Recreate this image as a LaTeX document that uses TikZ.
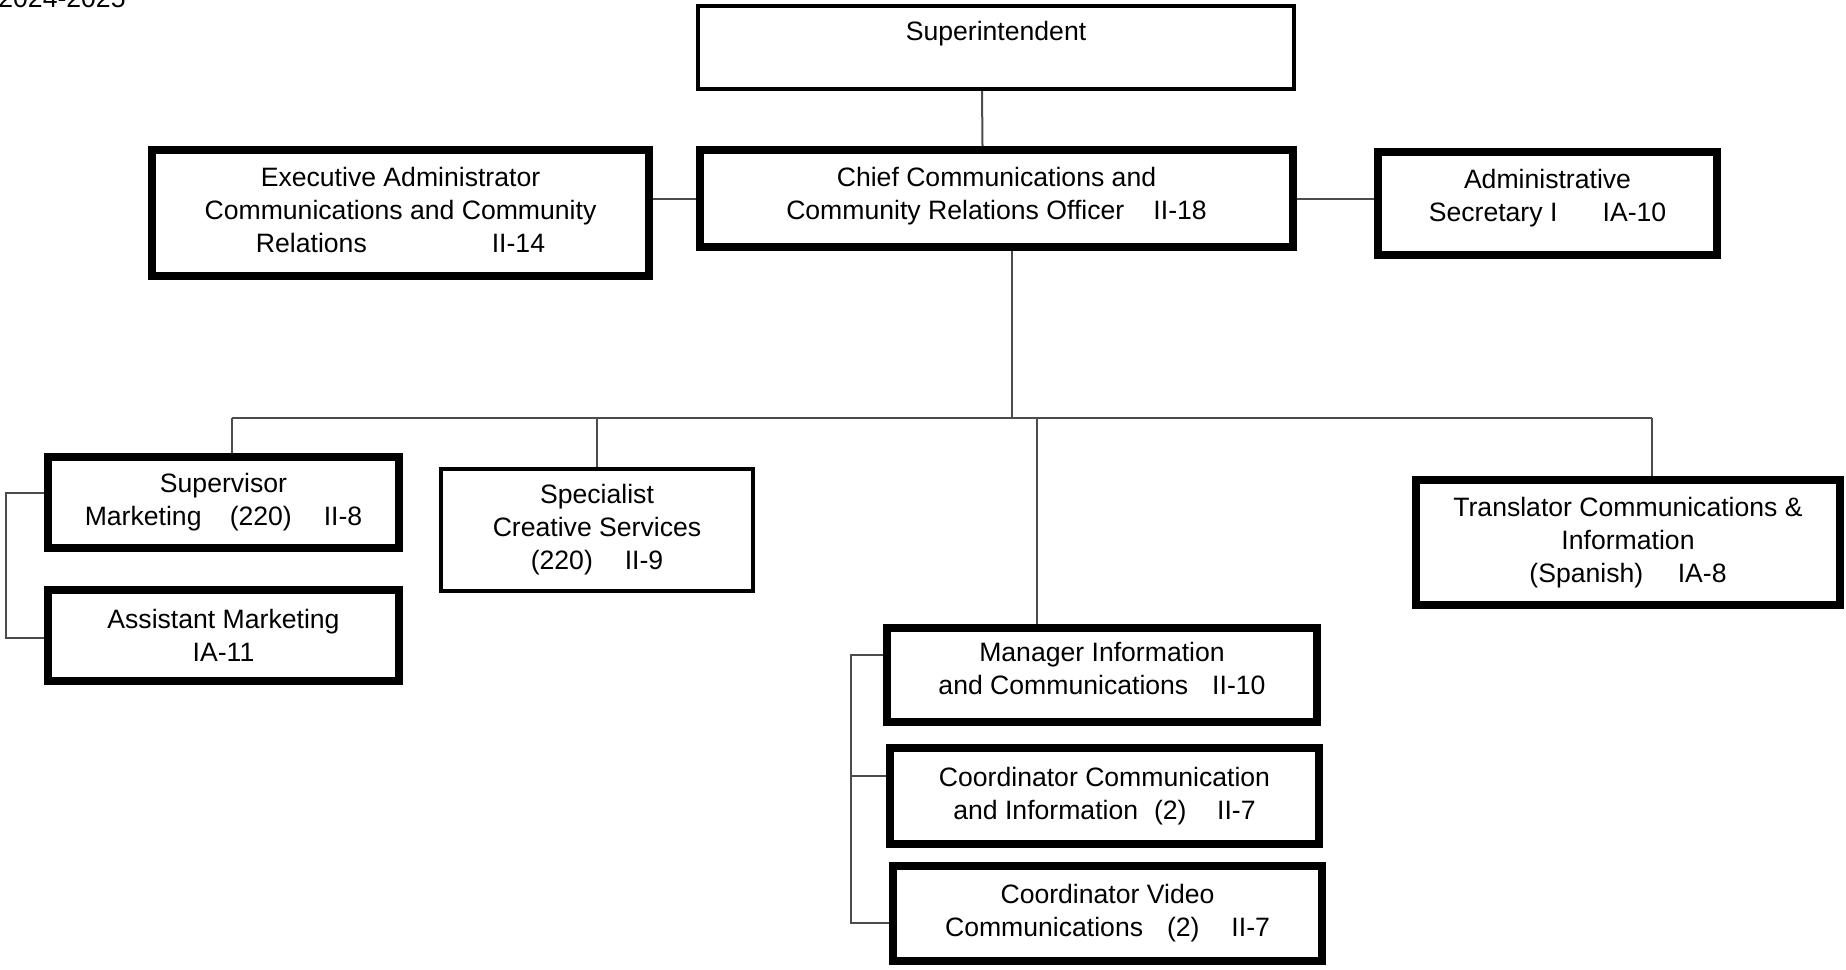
\documentclass[tikz,border=0pt]{standalone}
\usepackage{fontspec}
\setmainfont{Liberation Sans}
\usetikzlibrary{backgrounds}

\definecolor{linegray}{gray}{0.3}
\newcommand{\gap}[1]{\hspace{#1em}}
\tikzset{
	unit/.style={draw, line width=4pt, align=center, inner sep=1pt, font=\fontsize{13.3}{16.5}\selectfont},
	thinunit/.style={unit, line width=2pt},
	link/.style={draw=linegray, line width=1pt},
}

\begin{document}
\begin{tikzpicture}[x=0.5pt, y=-0.5pt]
		\useasboundingbox (0,0) rectangle (1846,969);
		\node[anchor=base west, inner sep=0pt, font=\fontsize{13.3}{16.5}\selectfont] (year) at (-2,8) {2024-2025};
		\node[thinunit, minimum width=298pt, minimum height=41.5pt] (super) at (996,47.5) {Superintendent\\\mbox{}};
		\node[unit, minimum width=296.5pt, minimum height=48.5pt, text depth=5.2pt] (chief) at (996.5,198.5) {Chief Communications and\\Community Relations Officer\gap{1.1}II-18};
		\node[unit, minimum width=248.5pt, minimum height=63pt, text depth=3.5pt] (execadmin) at (400.5,213) {Executive Administrator\\Communications and Community\\Relations\gap{4.7}II-14};
		\node[unit, minimum width=169.5pt, minimum height=51.5pt, text depth=7.8pt] (adminsec) at (1547.5,203.5) {Administrative\\Secretary I\gap{1.7}IA-10};
		\node[unit, minimum width=175.5pt, minimum height=45.5pt] (supmkt) at (223.5,502.5) {Supervisor\\Marketing\gap{1.06}(220)\gap{1.2}II-8};
		\node[unit, minimum width=175.5pt, minimum height=45.5pt] (asstmkt) at (223.5,635.5) {Assistant Marketing\\IA-11};
		\node[thinunit, minimum width=156pt, minimum height=61pt] (creative) at (597,530) {Specialist\\Creative Services\\(220)\gap{1.2}II-9};
		\node[unit, minimum width=212pt, minimum height=62.5pt] (translator) at (1628,542.5) {Translator Communications \&\\Information\\(Spanish)\gap{1.3}IA-8};
		\node[unit, minimum width=215pt, minimum height=47pt, text depth=7pt] (mgrinfo) at (1102,675) {Manager Information\\and Communications\gap{0.9}II-10};
		\node[unit, minimum width=214.5pt, minimum height=48pt] (coordcomm) at (1104.5,796) {Coordinator Communication\\and Information\gap{0.6}(2)\gap{1.15}II-7};
		\node[unit, minimum width=214.5pt, minimum height=47.5pt] (coordvideo) at (1107.5,913.5) {Coordinator Video\\Communications\gap{0.9}(2)\gap{1.2}II-7};
		\coordinate (hub) at (1012,418);
		\coordinate (busL) at (232,418);
		\coordinate (busM) at (1037,418);
		\coordinate (busR) at (1652,418);
		\coordinate (mktbar) at (6,0);
		\coordinate (infobar) at (851,0);
		\begin{scope}[on background layer]
		\draw[link] ([xshift=-7pt]super.south) -- ([xshift=-7pt]chief.north);
		\draw[link] (chief.west) -- (chief.west -| execadmin.east);
		\draw[link] (chief.east) -- (chief.east -| adminsec.west);
		\draw[link] (chief.south -| hub) -- (hub);
		\draw[link] (busL) -- (busR);
		\draw[link] (busL) -- (busL |- supmkt.north);
		\draw[link] (creative.north) -- (creative.north |- busL);
		\draw[link] (busM) -- (busM |- mgrinfo.north);
		\draw[link] (busR) -- (busR |- translator.north);
		% side brackets
		\draw[link] ([yshift=4.75pt]supmkt.west) -- ([yshift=4.75pt]supmkt.west -| mktbar) -- ([yshift=-1.25pt]asstmkt.west -| mktbar) -- ([yshift=-1.25pt]asstmkt.west);
		\draw[link] ([yshift=10pt]mgrinfo.west) -- ([yshift=10pt]mgrinfo.west -| infobar) -- ([yshift=-4.75pt]coordvideo.west -| infobar) -- ([yshift=-4.75pt]coordvideo.west);
		\draw[link] ([yshift=10pt]coordcomm.west) -- ([yshift=10pt]coordcomm.west -| infobar);
		\end{scope}
	\end{tikzpicture}
\end{document}
